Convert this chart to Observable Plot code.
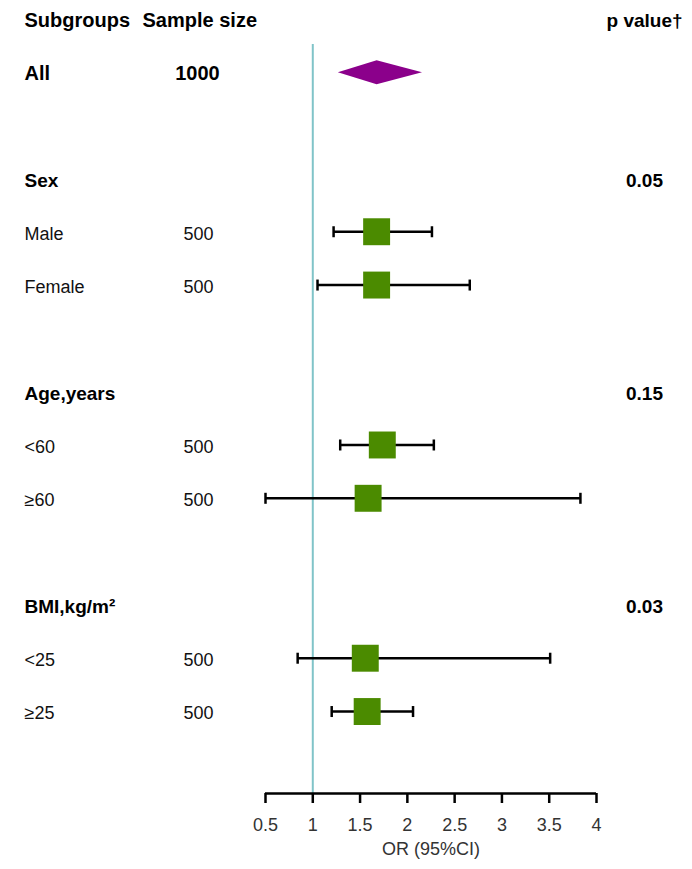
<!DOCTYPE html>
<html>
<head>
<meta charset="utf-8">
<script src="https://cdn.jsdelivr.net/npm/d3@7"></script>
<script src="https://cdn.jsdelivr.net/npm/@observablehq/plot@0.6"></script>
<style>
  html, body { margin: 0; padding: 0; background: #fff; overflow: hidden; }
</style>
</head>
<body>
<div id="chart"></div>
<script>
// ---- data ----
const headers = ["Subgroups", "Sample size", "p value†"];
const overallLabel = "All";
const overallN = 1000;
const overallOR = 1.68;
const overallLower = 1.27;
const overallUpper = 2.16;

const groups = ["Sex", "Age,years", "BMI,kg/m²"];
const groupP = ["0.05", "0.15", "0.03"];

const subgroups = ["Male", "Female", "<60", "≥60", "<25", "≥25"];
const subgroupGroup = ["Sex", "Sex", "Age,years", "Age,years", "BMI,kg/m²", "BMI,kg/m²"];
const sampleSizes = [500, 500, 500, 500, 500, 500];
const orValues = [1.675, 1.675, 1.735, 1.585, 1.555, 1.575];
const lowerCI = [1.22, 1.05, 1.29, 0.50, 0.84, 1.20];
const upperCI = [2.26, 2.66, 2.28, 3.83, 3.51, 2.06];

const xTicks = [0.5, 1, 1.5, 2, 2.5, 3, 3.5, 4];
const xDomain = [0.5, 4];
const refValue = 1;
const axisLabel = "OR (95%CI)";

// ---- build row layout ----
let row = 0;
const headerRow = row++;
const allRow = row++;
row++; // blank
const groupRows = [];
const subRows = [];
groups.forEach((g, gi) => {
  groupRows.push({label: g, p: groupP[gi], row: row++});
  subgroups.forEach((s, si) => {
    if (subgroupGroup[si] === g) {
      subRows.push({label: s, n: sampleSizes[si], or: orValues[si], lo: lowerCI[si], hi: upperCI[si], row: row++});
    }
  });
  row++; // blank
});
const bottomRow = row - 0.5;

const diamondHalf = 0.225;
const diamond = [
  {x: overallLower, y1: allRow, y2: allRow},
  {x: overallOR, y1: allRow - diamondHalf, y2: allRow + diamondHalf},
  {x: overallUpper, y1: allRow, y2: allRow}
];

const capSymbol = {
  draw(context, size) {
    const h = Math.sqrt(size / Math.PI);
    context.moveTo(0, -h);
    context.lineTo(0, h);
  }
};

const font = "'Liberation Sans', Arial, Helvetica, sans-serif";
const headSize = 20;
const boldSize = 19;
const normSize = 18;

const chart = Plot.plot({
  width: 692,
  height: 869,
  marginLeft: 265,
  marginRight: 96,
  marginTop: 0,
  marginBottom: 76,
  style: {fontFamily: font, background: "#fff", overflow: "visible"},
  x: {domain: xDomain, label: null},
  y: {domain: [0, bottomRow], range: [20, 793], axis: null},
  marks: [
    // reference line
    Plot.ruleX([refValue], {y1: headerRow + 0.45, y2: bottomRow, stroke: "#80C4C8", strokeWidth: 2}),
    // axis line
    Plot.ruleY([bottomRow], {x1: xDomain[0], x2: xDomain[1], stroke: "#000", strokeWidth: 2.5}),
    Plot.axisX({ticks: xTicks, tickFormat: d3.format("~g"), tickSize: 10, tickPadding: 15,
      strokeWidth: 2.5, stroke: "#000", fontSize: normSize, fill: "#333", label: null}),
    Plot.text([axisLabel], {frameAnchor: "bottom", lineAnchor: "middle", dy: 56, fontSize: normSize, fill: "#333"}),

    // headers
    Plot.text([headers[0]], {y: () => headerRow, frameAnchor: "left", dx: 24 - 265, textAnchor: "start", fontWeight: "bold", fontSize: headSize, fill: "#000"}),
    Plot.text([headers[1]], {y: () => headerRow, frameAnchor: "left", dx: 142 - 265, textAnchor: "start", fontWeight: "bold", fontSize: headSize, fill: "#000"}),
    Plot.text([headers[2]], {y: () => headerRow, frameAnchor: "right", dx: 606 - 596, textAnchor: "start", fontWeight: "bold", fontSize: boldSize, fill: "#000"}),

    // overall row
    Plot.text([overallLabel], {y: () => allRow, frameAnchor: "left", dx: 24 - 265, textAnchor: "start", fontWeight: "bold", fontSize: headSize, fill: "#000"}),
    Plot.text([overallN], {y: () => allRow, text: d => String(d), frameAnchor: "left", dx: 197 - 265, textAnchor: "middle", fontWeight: "bold", fontSize: headSize, fill: "#000"}),
    Plot.areaY(diamond, {x: "x", y1: "y1", y2: "y2", fill: "#8B008B", dy: -1}),

    // group rows
    Plot.text(groupRows, {y: "row", text: "label", frameAnchor: "left", dx: 24 - 265, textAnchor: "start", fontWeight: "bold", fontSize: boldSize, fill: "#000"}),
    Plot.text(groupRows, {y: "row", text: "p", frameAnchor: "right", dx: 644 - 596, textAnchor: "middle", fontWeight: "bold", fontSize: boldSize, fill: "#000"}),

    // subgroup rows
    Plot.text(subRows, {y: "row", text: "label", frameAnchor: "left", dx: 24 - 265, textAnchor: "start", fontSize: normSize, fill: "#111"}),
    Plot.text(subRows, {y: "row", text: d => String(d.n), frameAnchor: "left", dx: 198 - 265, textAnchor: "middle", fontSize: normSize, fill: "#111"}),
    Plot.ruleY(subRows, {y: "row", x1: "lo", x2: "hi", stroke: "#000", strokeWidth: 2.5, dy: -2}),
    Plot.dot(subRows, {y: "row", x: "lo", symbol: capSymbol, r: 5.5, stroke: "#000", strokeWidth: 2.5, dy: -2}),
    Plot.dot(subRows, {y: "row", x: "hi", symbol: capSymbol, r: 5.5, stroke: "#000", strokeWidth: 2.5, dy: -2}),
    Plot.dot(subRows, {y: "row", x: "or", symbol: "square", r: 15.2, fill: "#4B8B00", stroke: "none", dy: -2})
  ]
});
document.getElementById("chart").appendChild(chart);
</script>
</body>
</html>
